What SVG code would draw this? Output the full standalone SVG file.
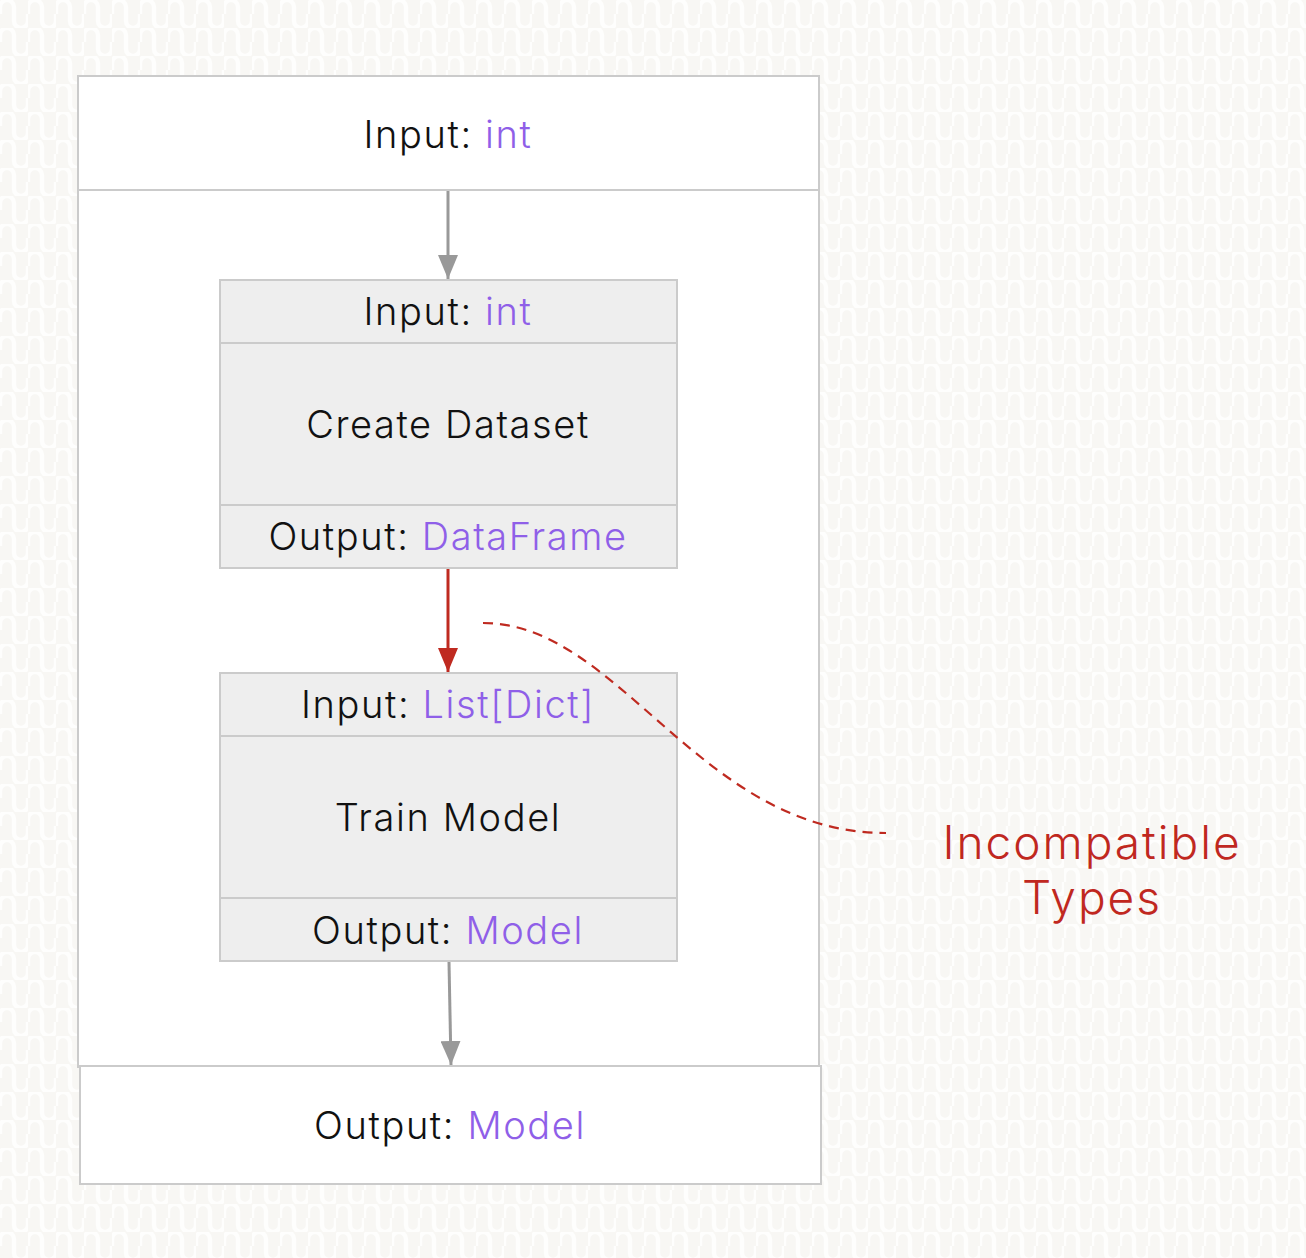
<svg xmlns="http://www.w3.org/2000/svg" width="1306" height="1258" viewBox="0 0 1306 1258">
<defs>
<pattern id="bg" width="28" height="28" patternUnits="userSpaceOnUse">
<rect width="28" height="28" fill="#f8f7f4"/>
<path d="M0,14 L0,7 A7,7 0 0 1 14,7 L14,21 A7,7 0 0 0 28,21 L28,14" fill="none" stroke="#fefefd" stroke-width="4.5"/>
</pattern>
<marker id="ag" viewBox="0 0 24 20" refX="24" refY="10" markerWidth="24" markerHeight="20" markerUnits="userSpaceOnUse" orient="auto">
<path d="M0,0 L24,10 L0,20 z" fill="#999"/>
</marker>
<marker id="ar" viewBox="0 0 24 20" refX="24" refY="10" markerWidth="24" markerHeight="20" markerUnits="userSpaceOnUse" orient="auto">
<path d="M0,0 L24,10 L0,20 z" fill="#bf2a20"/>
</marker>
<style>
.box{fill:#fff;stroke:#cbcbcb;stroke-width:2}
.nd{fill:#eeeeee;stroke:#cbcbcb;stroke-width:2}
.t{font-family:Inter,"Liberation Sans",sans-serif;font-weight:300;font-size:38px;letter-spacing:1.6px;fill:#111;text-anchor:middle}
.p{fill:#8f5fe8}
.r{fill:#c0281f;font-size:46px;letter-spacing:2px}
</style>
</defs>
<rect width="1306" height="1258" fill="url(#bg)"/>
<g id="pipeline">
<rect class="box" x="78" y="76" width="741" height="991"/>
<rect class="box" x="78" y="76" width="741" height="114"/>
<text class="t" x="448" y="148">Input: <tspan class="p">int</tspan></text>
</g>
<g id="output">
<rect class="box" x="80" y="1066" width="741" height="118"/>
<text class="t" x="450" y="1139">Output: <tspan class="p">Model</tspan></text>
</g>
<g id="create-dataset">
<rect class="nd" x="220" y="280" width="457" height="288"/>
<line x1="220" y1="343" x2="677" y2="343" stroke="#cbcbcb" stroke-width="2"/>
<line x1="220" y1="505" x2="677" y2="505" stroke="#cbcbcb" stroke-width="2"/>
<text class="t" x="448" y="325">Input: <tspan class="p">int</tspan></text>
<text class="t" x="448" y="438">Create Dataset</text>
<text class="t" x="448" y="550">Output: <tspan class="p">DataFrame</tspan></text>
</g>
<g id="train-model">
<rect class="nd" x="220" y="673" width="457" height="288"/>
<line x1="220" y1="736" x2="677" y2="736" stroke="#cbcbcb" stroke-width="2"/>
<line x1="220" y1="898" x2="677" y2="898" stroke="#cbcbcb" stroke-width="2"/>
<text class="t" x="448" y="718">Input: <tspan class="p">List[Dict]</tspan></text>
<text class="t" x="448" y="831">Train Model</text>
<text class="t" x="448" y="944">Output: <tspan class="p">Model</tspan></text>
</g>
<g id="note">
<text class="t r" x="1092" y="859">Incompatible</text>
<text class="t r" x="1092" y="914">Types</text>
</g>
<g id="connectors">
<line x1="448" y1="191" x2="448" y2="279" stroke="#999" stroke-width="3" marker-end="url(#ag)"/>
<line x1="448" y1="569" x2="448" y2="672" stroke="#bf2a20" stroke-width="3" marker-end="url(#ar)"/>
<line x1="449" y1="962" x2="451" y2="1065" stroke="#999" stroke-width="3" marker-end="url(#ag)"/>
<path d="M483,623 C620,623 700,833 886,833" fill="none" stroke="#bf2a20" stroke-width="2.2" stroke-dasharray="10,7"/>
</g>
</svg>
